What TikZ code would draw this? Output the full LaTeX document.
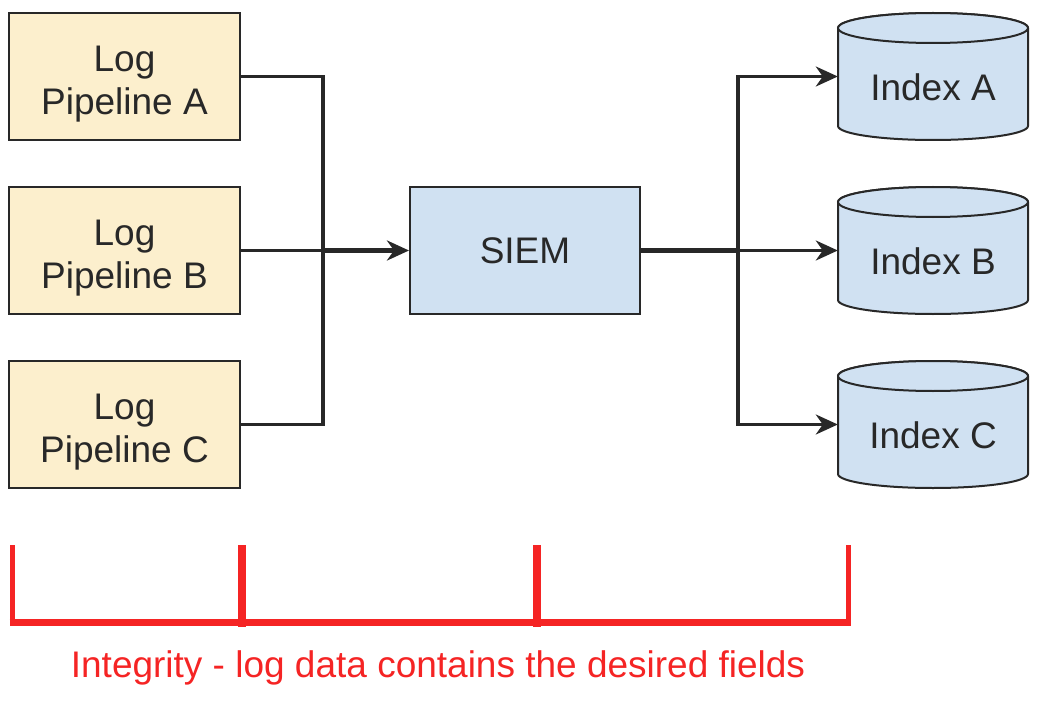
\documentclass[tikz,border=0pt]{standalone}
\usepackage{fontspec}
\setmainfont{Liberation Sans}
\usetikzlibrary{arrows.meta}
\definecolor{beige}{RGB}{252,239,205}
\definecolor{lblue}{RGB}{208,225,242}
\definecolor{edge}{RGB}{40,40,40}
\definecolor{myred}{RGB}{245,36,36}
\tikzset{
  box/.style={draw=edge, line width=2pt, minimum width=231pt, minimum height=127pt, align=center, text=edge, font=\fontsize{37}{43}\selectfont, inner sep=0pt},
  pipe/.style={box, fill=beige},
  siembox/.style={box, fill=lblue},
  conn/.style={draw=edge, line width=3.2pt},
  thickconn/.style={draw=edge, line width=5pt},
  arr/.style={-{Stealth[length=22pt,width=20pt,inset=7pt]}},
  cylfill/.style={fill=lblue, draw=edge, line width=2pt},
  lbl/.style={text=edge, font=\fontsize{37}{43}\selectfont, inner sep=0pt},
  redline/.style={draw=myred, line cap=butt},
}
\newcommand\cylinder[4]{% name, cx, ytop (positive px), label
  \node[minimum width=190pt, minimum height=127pt, inner sep=0pt] (#1) at (#2,-#3-63.5) {};
  \path[cylfill] (#2-95,-#3-15) -- (#2-95,-#3-113)
     arc[start angle=180,end angle=360,x radius=95,y radius=14]
     -- (#2+95,-#3-15)
     arc[start angle=0,end angle=180,x radius=95,y radius=15] -- cycle;
  \path[cylfill] (#2,-#3-15) ellipse[x radius=95,y radius=15];
  \node[lbl] (#1-t) at (#2,-#3-74) {#4};
}
\newcommand\toppad{\rule{0pt}{41pt}}
\begin{document}
\begin{tikzpicture}[x=1pt,y=1pt]
\useasboundingbox (0,0) rectangle (1042,-706);
% left boxes
\node[pipe] (pa) at (124.5,-76.5) {\toppad Log\\Pipeline A};
\node[pipe] (pb) at (124.5,-250.5) {\toppad Log\\Pipeline B};
\node[pipe] (pc) at (124.5,-424.5) {\toppad Log\\Pipeline C};
\node[siembox, minimum width=230pt] (siem) at (525,-250.5) {SIEM};
% cylinders
\cylinder{ia}{933}{13}{Index A}
\cylinder{ib}{933}{187}{Index B}
\cylinder{ic}{933}{361}{Index C}
% junctions
\coordinate (j1) at (323,-250.5);
\coordinate (j2) at (738,-250.5);
% left connectors
\draw[conn, line join=miter] (pa.east) -| (j1);
\draw[conn, line join=miter] (pc.east) -| (j1);
\draw[conn] (pb.east) -- (j1);
\draw[thickconn, arr] (j1) -- (siem.west);
% right connectors
\draw[thickconn] (siem.east) -- (j2);
\draw[conn, arr, line join=miter] (j2) |- (ia.west);
\draw[conn, arr] (j2) -- (ib.west);
\draw[conn, arr, line join=miter] (j2) |- (ic.west);
% red bracket
\coordinate (r1) at (12,-545);
\coordinate (r2) at (242,-545);
\coordinate (r3) at (537,-545);
\coordinate (r4) at (848,-545);
\draw[redline, line width=7pt] (9.5,-622.5) -- (850.5,-622.5);
\draw[redline, line width=5pt] (r1) -- (12,-626);
\draw[redline, line width=8pt] (r2) -- (242,-627);
\draw[redline, line width=8pt] (r3) -- (537,-627);
\draw[redline, line width=5pt] (r4) -- (848,-626);
\node[text=myred, font=\fontsize{37}{43}\selectfont, inner sep=0pt] (cap) at (438,-668) {Integrity - log data contains the desired fields};
\end{tikzpicture}
\end{document}
